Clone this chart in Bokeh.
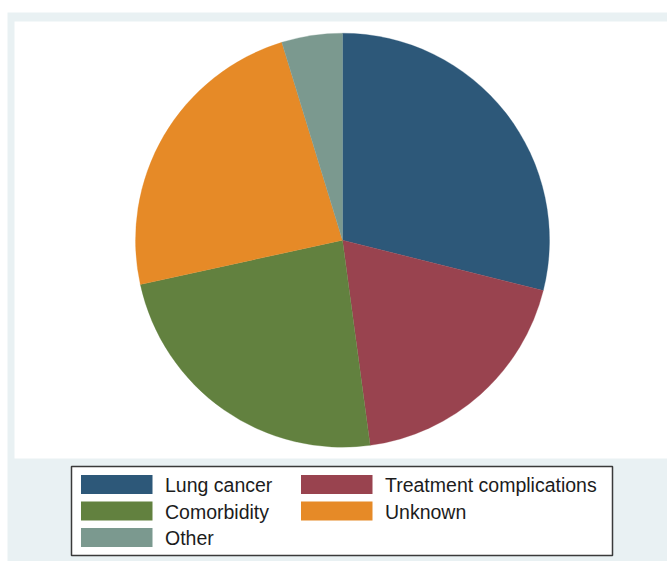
import numpy as np
from bokeh.plotting import figure
from bokeh.models import ColumnDataSource, Range1d
from bokeh.core.properties import value
from bokeh.embed import file_html
from bokeh.resources import INLINE

# ---- data ----
causes = ["Lung cancer", "Treatment complications", "Comorbidity", "Unknown", "Other"]
counts = [61, 40, 50, 50, 10]
colors = ["#2D5879", "#99434F", "#62813F", "#E68A27", "#7B998F"]

W, H = 667, 561
p = figure(width=W, height=H, x_range=Range1d(0, W), y_range=Range1d(0, H),
           output_backend="svg", toolbar_location=None, min_border=0,
           x_axis_location=None, y_axis_location=None)
p.grid.visible = False
p.outline_line_color = None
p.background_fill_color = "white"
p.border_fill_color = "white"

def Y(y):  # screen-y (top origin) to data-y
    return H - y

# background regions (Stata-like graph region + plot region)
p.quad(left=[7], right=[W], top=[Y(12)], bottom=[Y(H)], fill_color="#E9F1F3", line_color=None)
p.quad(left=[14], right=[W], top=[Y(21)], bottom=[Y(458)], fill_color="white", line_color=None)

# pie
vals = np.array(counts, dtype=float)
frac = vals / vals.sum()
cum = np.cumsum(frac)
start = np.pi / 2 - (cum - frac) * 2 * np.pi
end = np.pi / 2 - cum * 2 * np.pi
src = ColumnDataSource(dict(start=start, end=end, color=colors, cause=causes))
p.wedge(x=342, y=Y(239.7), radius=207, radius_units="screen",
        start_angle="start", end_angle="end", direction="clock",
        fill_color="color", line_color="color", line_width=0.3, source=src)

# legend (manual, two columns, row-major like Stata)
p.quad(left=[71], right=[612], top=[Y(466)], bottom=[Y(555)],
       fill_color="white", line_color="#3a3a3a", line_width=1.5)
n = len(causes)
col = np.arange(n) % 2
row = np.arange(n) // 2
sw_left = np.where(col == 0, 80.5, 300.5)
sw_w = 71.5
row_c = 484 + row * 26.5
lsrc = ColumnDataSource(dict(
    left=sw_left, right=sw_left + sw_w,
    top=Y(row_c - 9.5), bottom=Y(row_c + 9.5),
    tx=sw_left + sw_w + 12.5, ty=Y(row_c + 0.5),
    color=colors, cause=causes))
p.quad(left="left", right="right", top="top", bottom="bottom",
       fill_color="color", line_color=None, source=lsrc)
p.text(x="tx", y="ty", text="cause", source=lsrc,
       text_font=value("Liberation Sans"), text_font_size="19.5px",
       text_color="#1c1c1c", text_baseline="middle", text_align="left")

open("out.html", "w").write(file_html(p, INLINE))
